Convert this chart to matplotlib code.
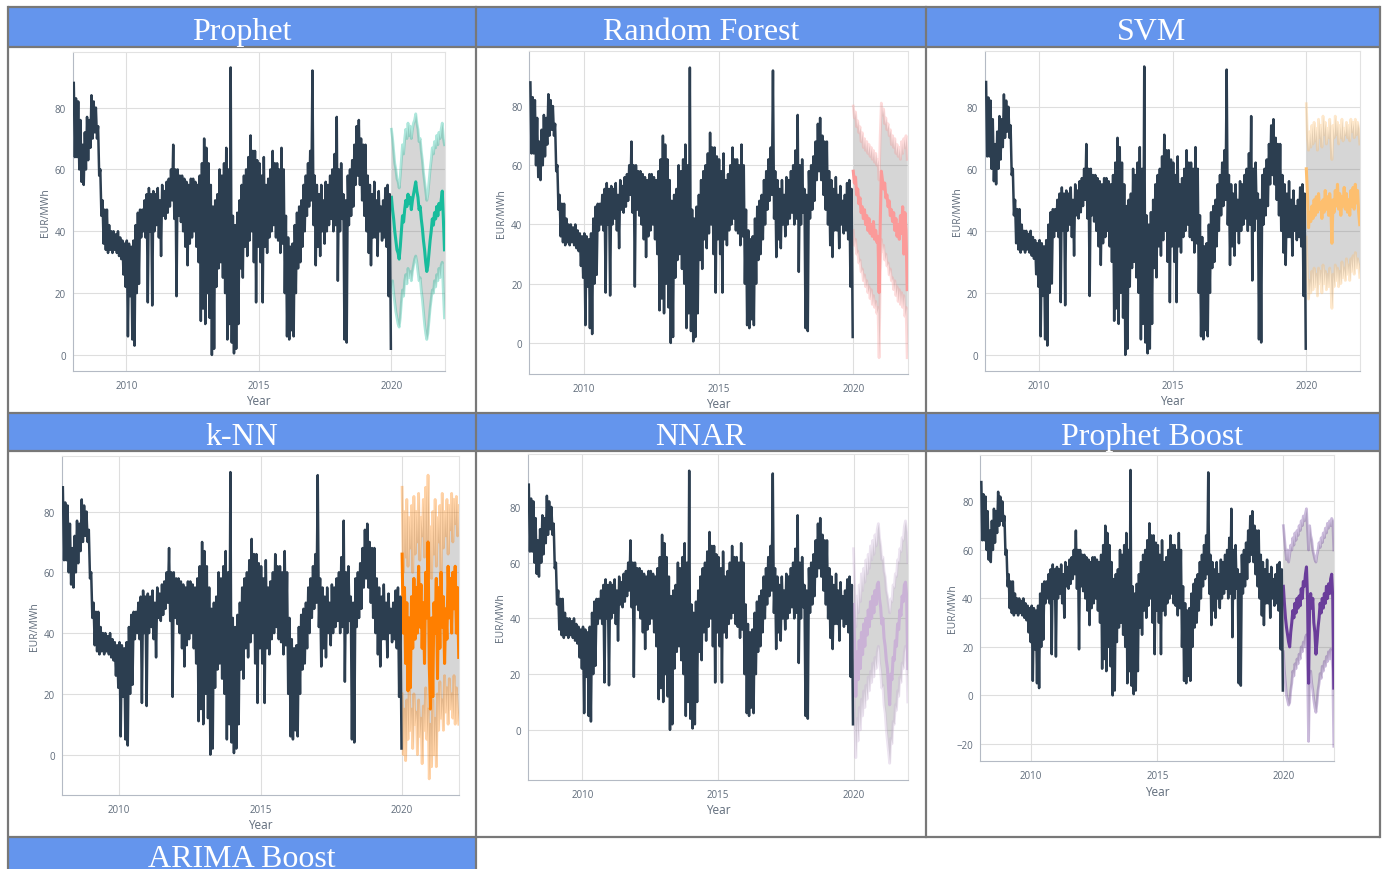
import numpy as np
import matplotlib
matplotlib.use("Agg")
import matplotlib.pyplot as plt
from matplotlib.patches import Rectangle

# ---------------- data ----------------
# monthly upper / lower envelope of the daily price (EUR/MWh), Jan 2008 .. Dec 2019
hist_hi = [
    88, 83, 82, 76, 68, 72, 77, 76, 84, 82, 80, 74,   # 2008
    60, 50, 47, 47, 42, 40, 40, 39, 40, 38, 37, 36,   # 2009
    37, 36, 35, 37, 42, 46, 47, 47, 50, 52, 54, 52,   # 2010
    53, 52, 54, 50, 55, 53, 56, 57, 60, 68, 60, 60,   # 2011
    58, 58, 57, 56, 55, 57, 57, 56, 55, 58, 62, 70,   # 2012
    67, 62, 55, 48, 50, 52, 60, 58, 62, 67, 60, 93,   # 2013
    45, 42, 46, 50, 55, 58, 60, 64, 71, 66, 66, 63,   # 2014
    62, 58, 64, 55, 57, 60, 66, 62, 62, 60, 67, 60,   # 2015
    45, 38, 35, 36, 42, 46, 48, 50, 55, 58, 62, 66,   # 2016
    92, 58, 55, 52, 55, 50, 56, 55, 58, 60, 65, 77,   # 2017
    60, 62, 52, 50, 58, 60, 63, 68, 74, 76, 70, 68,   # 2018
    68, 58, 55, 52, 56, 50, 53, 48, 50, 54, 55, 52,   # 2019
]
hist_lo = [
    64, 64, 60, 56, 55, 60, 63, 67, 70, 72, 70, 58,   # 2008
    45, 36, 34, 33, 34, 33, 34, 33, 32, 31, 26, 22,   # 2009
    6, 19, 5, 3, 20, 23, 38, 40, 38, 17, 40, 16,      # 2010
    40, 42, 38, 32, 45, 44, 46, 48, 50, 44, 19, 45,   # 2011
    43, 40, 35, 29, 36, 38, 40, 35, 30, 11, 15, 10,   # 2012
    20, 12, 0, 2, 22, 28, 30, 25, 20, 5, 10, 4,       # 2013
    0.5, 2, 10, 28, 25, 35, 32, 37, 40, 30, 17, 35,   # 2014
    30, 17, 35, 33, 38, 40, 42, 38, 37, 33, 36, 20,   # 2015
    6, 5, 8, 6, 20, 28, 30, 35, 40, 45, 48, 50,       # 2016
    42, 29, 35, 32, 40, 36, 40, 42, 44, 40, 42, 24,   # 2017
    40, 44, 5, 4, 42, 45, 48, 55, 58, 55, 50, 45,     # 2018
    40, 33, 29, 38, 38, 32, 40, 37, 38, 35, 19, 2,    # 2019
]

# forecasts, half-monthly from 2020.0 to 2022.0
prophet_mid = [51, 47, 44, 40, 37, 34, 33, 31, 35, 40, 45, 43, 47, 50, 48, 52, 49, 51, 47, 50, 52, 54, 56, 53, 51,
               47, 48, 44, 41, 37, 34, 30, 27, 29, 33, 37, 40, 44, 42, 46, 44, 48, 45, 49, 47, 50, 53, 44, 34]
prophet_hi = [73, 70, 66, 62, 60, 57, 56, 54, 58, 63, 68, 65, 70, 73, 70, 75, 71, 74, 70, 73, 75, 76, 78, 75, 73,
              69, 70, 66, 63, 59, 56, 53, 50, 52, 56, 60, 63, 67, 65, 69, 67, 71, 68, 72, 70, 73, 75, 70, 68]
prophet_lo = [22, 24, 20, 17, 14, 12, 10, 9, 12, 17, 21, 19, 24, 26, 23, 28, 25, 27, 24, 27, 29, 31, 32, 30, 27,
              24, 25, 21, 18, 14, 10, 7, 5, 7, 11, 15, 18, 21, 20, 24, 22, 26, 24, 28, 25, 29, 30, 20, 12]

rf_mid = [58, 54, 56, 50, 52, 47, 49, 44, 46, 42, 45, 40, 43, 38, 42, 37, 40, 36, 41, 35, 38, 34, 36, 17, 40,
          58, 55, 52, 54, 49, 50, 46, 48, 43, 45, 41, 44, 38, 42, 36, 40, 35, 43, 37, 46, 30, 44, 38, 18]
rf_hi = [80, 76, 78, 73, 75, 71, 73, 68, 71, 66, 69, 65, 68, 64, 67, 63, 66, 62, 65, 61, 64, 60, 62, 55, 70,
         81, 77, 79, 74, 76, 72, 74, 70, 72, 67, 70, 66, 69, 64, 67, 63, 66, 62, 68, 64, 69, 66, 70, 62]
rf_lo = [38, 33, 35, 30, 31, 27, 28, 24, 25, 21, 23, 19, 21, 17, 19, 15, 18, 13, 16, 12, 14, 10, 12, -5, 20,
         35, 31, 33, 28, 30, 26, 27, 23, 25, 21, 22, 18, 21, 16, 19, 14, 18, 13, 17, 12, 16, 9, 12, -5]

svm_mid = [60, 52, 41, 46, 43, 48, 44, 50, 45, 51, 46, 52, 47, 49, 44, 50, 46, 53, 47, 51, 45, 52, 48, 36, 50,
           46, 53, 48, 55, 47, 52, 45, 51, 48, 54, 47, 52, 46, 50, 45, 53, 48, 54, 47, 55, 49, 53, 46, 42]
svm_hi = [81, 70, 66, 72, 67, 74, 68, 75, 69, 73, 66, 76, 70, 74, 67, 77, 71, 75, 68, 73, 70, 76, 69, 63, 74,
          70, 77, 71, 75, 68, 74, 70, 76, 69, 73, 71, 75, 70, 74, 69, 76, 72, 75, 70, 76, 71, 75, 73, 68]
svm_lo = [38, 25, 18, 24, 20, 27, 21, 28, 22, 26, 19, 28, 23, 27, 20, 29, 23, 27, 21, 26, 22, 28, 23, 15, 26,
          22, 29, 24, 28, 22, 27, 23, 30, 25, 28, 24, 31, 26, 29, 24, 31, 27, 32, 26, 33, 28, 31, 29, 25]

knn_mid = [66, 40, 55, 30, 50, 21, 45, 22, 52, 35, 58, 38, 55, 40, 62, 42, 56, 35, 50, 30, 60, 45, 70, 30, 15,
           45, 19, 50, 40, 58, 25, 55, 35, 60, 42, 52, 30, 48, 38, 62, 45, 58, 40, 60, 48, 62, 40, 55, 32]
knn_hi = [88, 60, 80, 65, 84, 62, 78, 68, 82, 60, 85, 66, 80, 70, 86, 64, 78, 72, 84, 65, 88, 70, 92, 60, 75,
          58, 80, 66, 84, 62, 78, 70, 82, 60, 86, 68, 80, 72, 84, 66, 82, 74, 86, 70, 84, 76, 85, 72, 82]
knn_lo = [20, 0, 15, -2, 18, 5, 22, 8, 15, 2, 20, 10, 14, 0, 18, 6, 12, -3, 16, 8, 22, 5, 15, -8, 10,
          -4, 18, 0, 12, -4, 20, 8, 24, 12, 18, 8, 26, 14, 22, 10, 25, 15, 20, 12, 26, 10, 22, 14, 10]

nnar_mid = [45, 30, 12, 28, 18, 32, 22, 35, 27, 38, 30, 40, 34, 43, 37, 46, 40, 48, 42, 50, 45, 52, 53, 47, 44,
            38, 40, 33, 30, 25, 22, 15, 9, 20, 18, 26, 25, 32, 30, 38, 36, 43, 41, 48, 46, 52, 53, 48, 22]
nnar_hi = [65, 52, 37, 48, 42, 52, 46, 56, 50, 58, 53, 61, 56, 63, 58, 66, 61, 68, 63, 70, 66, 72, 74, 69, 66,
           61, 62, 57, 55, 50, 48, 45, 42, 47, 46, 52, 51, 56, 55, 61, 60, 65, 64, 69, 68, 73, 75, 71, 60]
nnar_lo = [25, 5, -10, 4, -4, 8, 0, 11, 5, 14, 8, 16, 11, 19, 14, 21, 17, 24, 19, 26, 22, 28, 30, 24, 21,
           15, 16, 9, 6, 0, -4, -8, -12, -3, -5, 3, 2, 9, 7, 14, 12, 19, 17, 24, 22, 28, 30, 25, 10]

pboost_mid = [45, 38, 32, 28, 25, 22, 20, 26, 30, 35, 32, 38, 34, 40, 36, 41, 37, 44, 40, 47, 45, 50, 53, 40, 5,
              38, 42, 36, 40, 30, 26, 17, 22, 28, 32, 38, 34, 40, 36, 42, 38, 45, 40, 46, 42, 48, 50, 40, 3]
pboost_hi = [70, 65, 60, 56, 60, 55, 58, 62, 60, 65, 62, 67, 64, 68, 66, 70, 68, 72, 70, 74, 72, 75, 77, 68, 60,
             70, 66, 64, 60, 58, 56, 55, 58, 60, 63, 61, 65, 63, 67, 65, 69, 67, 71, 69, 72, 70, 73, 72, 60]
pboost_lo = [18, 10, 5, 0, -2, -4, -3, 2, 5, 10, 8, 13, 11, 15, 13, 17, 15, 20, 18, 22, 20, 24, 25, 10, -19,
             8, 10, 5, 2, -2, -5, -7, -3, 2, 5, 9, 7, 12, 10, 14, 12, 16, 14, 18, 15, 19, 18, 10, -21]

titles = ["Prophet", "Random Forest", "SVM", "k-NN", "NNAR", "Prophet Boost"]
colors = ["#18BC9C", "#FB9A99", "#FDBF6F", "#FF7F00", "#CAB2D6", "#6A3D9A"]
mids = [prophet_mid, rf_mid, svm_mid, knn_mid, nnar_mid, pboost_mid]
highs = [prophet_hi, rf_hi, svm_hi, knn_hi, nnar_hi, pboost_hi]
lows = [prophet_lo, rf_lo, svm_lo, knn_lo, nnar_lo, pboost_lo]
y_ranges = [(-5.2, 98), (-10.5, 98.6), (-5.2, 98), (-13.3, 98.4), (-18, 99), (-27.2, 99.3)]
y_ticks = [[0, 20, 40, 60, 80]] * 5 + [[-20, 0, 20, 40, 60, 80]]

# ---------------- series ----------------
hist = np.empty(2 * len(hist_hi))
hist[0::2] = hist_hi
hist[1::2] = hist_lo
t_hist = 2008 + (np.arange(len(hist)) + 0.5) / 24
t_fc = 2020 + np.arange(len(prophet_mid)) / 24

# ---------------- figure ----------------
W, H = 1385, 870
fig = plt.figure(figsize=(W / 100, H / 100), dpi=100)

bg = fig.add_axes([0, 0, 1, 1])
bg.set_xlim(0, W)
bg.set_ylim(H, 0)
bg.axis("off")

blue = "#6495ED"
edge = "#787878"
# header bands
for (x0, x1, y0, y1) in [(8, 476, 8, 47.5), (476, 926, 8, 47.5), (926, 1379, 8, 47.5),
                         (8, 476, 413.5, 452), (476, 926, 413.5, 452), (926, 1379, 413.5, 452),
                         (8, 476, 838, 872)]:
    bg.add_patch(Rectangle((x0, y0), x1 - x0, y1 - y0, facecolor=blue, edgecolor="none"))
# table rules
for y in [8, 47.5, 413.5, 452, 838]:
    bg.plot([7.5, 1379.5], [y, y], color=edge, lw=1.6, solid_capstyle="butt")
for x in [7.5, 476]:
    bg.plot([x, x], [8, 872], color=edge, lw=1.6)
for x in [926, 1379.5]:
    bg.plot([x, x], [8, 838], color=edge, lw=1.6)

# the last header is cut by the bottom edge, as in the source
header_text = [(242, 40, "Prophet"), (701, 40, "Random Forest"), (1152, 40, "SVM"),
               (242, 445, "k-NN"), (701, 445, "NNAR"), (1152, 445, "Prophet Boost"),
               (242, 867, "ARIMA Boost")]
for x, y, s in header_text:
    bg.text(x, y, s, color="white", fontsize=23, family="Liberation Serif",
            ha="center", va="baseline")

# plot boxes in pixels: left, top, right, bottom
boxes = [(72.7, 53, 445, 372), (529.3, 52, 907.7, 375), (985, 52, 1360.3, 372),
         (61.7, 456.7, 459.3, 796), (527.7, 455, 908.3, 781), (980.3, 455.7, 1334.3, 762.3)]

tick_col = "#5f6b7a"
for i, (x0, y0, x1, y1) in enumerate(boxes):
    ax = fig.add_axes([x0 / W, 1 - y1 / H, (x1 - x0) / W, (y1 - y0) / H])
    ax.set_facecolor("white")
    ax.set_xlim(2007.98, 2022.02)
    ax.set_ylim(*y_ranges[i])
    ax.set_xticks([2010, 2015, 2020])
    ax.set_yticks(y_ticks[i])
    ax.set_yticklabels([f"\u2212{abs(v)}" if v < 0 else str(v) for v in y_ticks[i]])
    ax.grid(True, color="#dedede", lw=0.8)
    ax.set_axisbelow(True)
    ax.tick_params(length=0, labelsize=7, labelcolor=tick_col)
    ax.tick_params(axis="y", pad=5)
    ax.tick_params(axis="x", pad=6.5)
    for lab in ax.get_xticklabels() + ax.get_yticklabels():
        lab.set_family("Open Sans")
    for side in ["top", "right"]:
        ax.spines[side].set_color("#e2e2e2")
        ax.spines[side].set_linewidth(0.8)
    for side in ["left", "bottom"]:
        ax.spines[side].set_color("#b4bac4")
        ax.spines[side].set_linewidth(0.8)

    ax.set_xlabel("Year", fontsize=8.5, color=tick_col, family="Open Sans", va="center")
    ax.set_ylabel("EUR/MWh", fontsize=7.5, color=tick_col, family="Open Sans", va="center")
    ax.xaxis.set_label_coords(0.5, -30 / (y1 - y0))
    ax.yaxis.set_label_coords(-27.5 / (x1 - x0), 0.5)

    c = colors[i]
    ax.fill_between(t_fc, lows[i], highs[i], color="#808080", alpha=0.32, lw=0, zorder=2)
    ax.plot(t_fc, highs[i], color=c, alpha=0.35, lw=2.0, zorder=3)
    ax.plot(t_fc, lows[i], color=c, alpha=0.35, lw=2.0, zorder=3)
    ax.plot(t_fc, mids[i], color=c, lw=2.2, zorder=4)
    ax.plot(t_hist, hist, color="#2C3E50", lw=1.8, zorder=5)

fig.savefig("out.png", dpi=100)
